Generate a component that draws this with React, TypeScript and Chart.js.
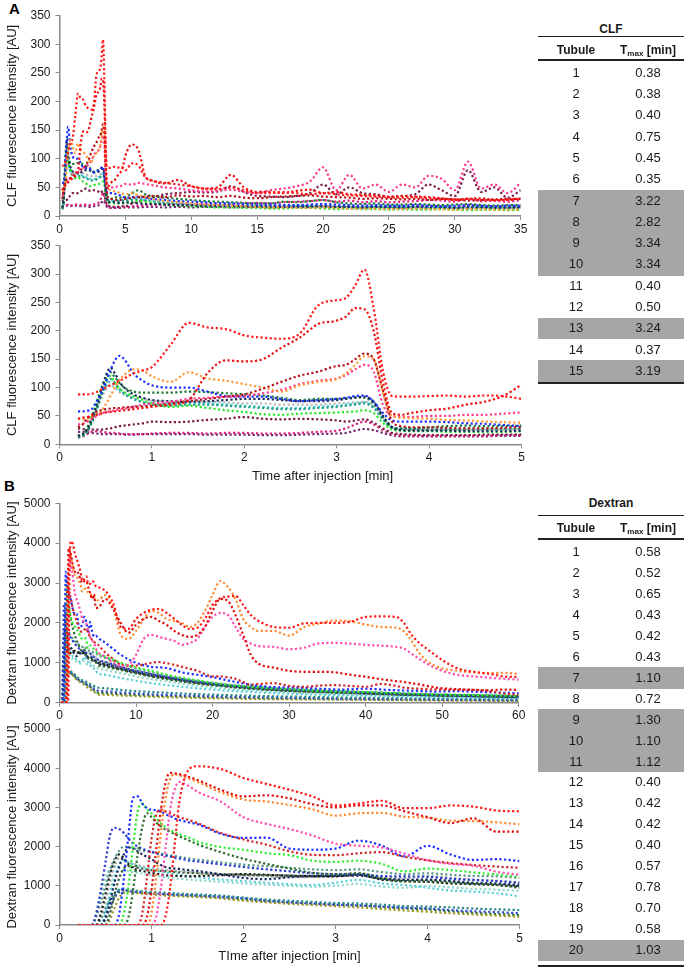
import React, { useEffect, useRef } from 'react';
import { Chart, registerables } from 'chart.js';

Chart.register(...registerables);

const FONT = "'Liberation Sans', Arial, Helvetica, sans-serif";

// ---------------- Panel A : CLF ----------------
// time grid for the 0-5 min view (min)
const tClf = [0.2, 0.25, 0.3, 0.35, 0.4, 0.45, 0.5, 0.55, 0.6, 0.65, 0.7, 0.8, 0.9, 1.0, 1.2, 1.4, 1.6, 1.8, 2.0, 2.2, 2.4, 2.6, 2.8, 3.0, 3.1, 3.2, 3.3, 3.4, 3.5, 3.6, 3.7, 3.8, 4.0, 4.2, 4.4, 4.6, 4.8, 5.0];
// time grid for the tail of the 0-35 min view (min)
const tClfTail = [5.5, 6, 6.5, 7, 8, 9, 10, 11, 12, 13, 14, 15, 16, 17, 18, 19, 20, 21, 22, 23, 24, 25, 26, 27, 28, 29, 30, 31, 32, 33, 34, 35];

const clfRed = [88, 88, 88, 89, 92, 96, 100, 104, 108, 112, 116, 125, 130, 136, 175, 214, 206, 203, 192, 188, 186, 195, 245, 254, 258, 280, 308, 240, 130, 85, 84, 84, 85, 86, 84, 86, 85, 80];
const clfRed2 = [45, 47, 48, 50, 52, 54, 56, 57, 58, 59, 60, 62, 64, 66, 70, 78, 125, 148, 146, 150, 170, 188, 212, 218, 225, 240, 238, 200, 110, 55, 52, 55, 60, 63, 70, 75, 85, 105];
const clfDarkRed = [30, 35, 45, 52, 57, 60, 62, 63, 64, 64, 65, 66, 67, 68, 72, 76, 80, 84, 88, 98, 110, 121, 128, 138, 140, 150, 160, 150, 95, 40, 32, 30, 30, 29, 28, 28, 29, 30];
const clfOrange = [45, 44, 45, 48, 52, 58, 70, 85, 100, 113, 122, 132, 130, 120, 110, 127, 116, 112, 106, 100, 93, 104, 110, 115, 125, 140, 155, 150, 90, 50, 47, 46, 45, 43, 42, 40, 39, 38];
const clfPink = [35, 36, 40, 45, 50, 54, 57, 58, 60, 62, 63, 66, 70, 72, 75, 80, 82, 84, 85, 90, 96, 106, 112, 116, 122, 132, 140, 128, 70, 50, 48, 48, 50, 50, 52, 52, 54, 56];
const clfBlue = [58, 58, 59, 62, 75, 90, 110, 130, 148, 156, 150, 125, 112, 104, 100, 100, 93, 85, 84, 84, 80, 76, 78, 80, 82, 85, 86, 75, 55, 42, 40, 40, 40, 39, 37, 36, 34, 32];
const clfNavy = [15, 18, 28, 45, 68, 95, 120, 135, 125, 110, 100, 88, 82, 78, 76, 75, 76, 78, 80, 80, 78, 76, 76, 78, 80, 82, 84, 75, 50, 30, 25, 24, 24, 24, 23, 23, 23, 24];
const clfDarkGreen = [14, 16, 25, 40, 62, 88, 112, 127, 118, 108, 100, 93, 91, 91, 91, 93, 92, 90, 88, 86, 82, 78, 80, 80, 81, 83, 82, 72, 48, 30, 28, 28, 30, 32, 33, 32, 32, 33];
const clfGreen = [15, 18, 30, 50, 75, 98, 115, 120, 108, 98, 92, 85, 78, 72, 66, 68, 64, 60, 57, 53, 52, 54, 55, 56, 57, 58, 60, 55, 38, 26, 24, 23, 23, 22, 22, 22, 22, 23];
const clfTeal = [12, 14, 22, 38, 60, 85, 105, 115, 108, 98, 90, 80, 74, 70, 68, 70, 70, 68, 66, 64, 62, 62, 64, 66, 68, 70, 72, 64, 44, 28, 25, 25, 25, 26, 26, 26, 27, 27];
const clfCyan = [13, 15, 24, 40, 62, 85, 102, 110, 104, 95, 88, 80, 75, 72, 72, 73, 72, 70, 68, 66, 64, 64, 66, 68, 70, 72, 74, 66, 45, 30, 28, 27, 27, 27, 28, 28, 28, 29];
const clfGray = [14, 16, 25, 40, 60, 80, 96, 104, 100, 92, 88, 83, 80, 77, 75, 76, 75, 74, 72, 72, 70, 70, 70, 72, 73, 74, 75, 68, 48, 30, 27, 26, 26, 26, 26, 26, 26, 27];
const clfMaroon = [28, 27, 26, 26, 26, 26, 27, 28, 30, 32, 33, 35, 37, 40, 39, 40, 43, 45, 48, 45, 44, 45, 44, 42, 40, 42, 44, 38, 28, 20, 18, 17, 16, 16, 16, 17, 17, 17];
const clfMagenta = [12, 14, 18, 22, 23, 22, 21, 20, 20, 19, 18, 18, 18, 19, 20, 20, 19, 20, 20, 19, 19, 20, 22, 24, 28, 35, 40, 35, 25, 18, 16, 15, 15, 15, 15, 15, 16, 16];
const clfPurple = [22, 22, 21, 20, 19, 18, 18, 18, 18, 18, 17, 17, 18, 18, 18, 18, 17, 17, 17, 16, 16, 17, 18, 19, 20, 24, 27, 25, 20, 16, 14, 14, 14, 14, 14, 14, 15, 15];

const clfRedTail = [92, 88, 68, 62, 58, 55, 52, 48, 47, 50, 45, 40, 40, 42, 40, 38, 40, 38, 36, 35, 34, 33, 32, 33, 31, 30, 29, 30, 28, 27, 29, 30];
const clfRed2Tail = [125, 115, 70, 62, 57, 63, 52, 48, 50, 72, 50, 42, 42, 40, 44, 46, 40, 42, 38, 37, 36, 34, 35, 34, 33, 31, 28, 30, 31, 28, 28, 31];
const clfDarkRedTail = [32, 33, 34, 35, 33, 36, 34, 35, 33, 35, 32, 31, 33, 34, 35, 36, 34, 33, 32, 30, 31, 30, 29, 30, 28, 30, 29, 27, 28, 29, 30, 30];
const clfOrangeTail = [40, 36, 33, 30, 26, 24, 22, 20, 19, 18, 17, 16, 15, 15, 14, 14, 15, 14, 13, 13, 13, 12, 12, 13, 12, 12, 11, 12, 12, 11, 11, 12];
const clfPinkTail = [55, 58, 56, 54, 50, 48, 45, 43, 44, 46, 42, 40, 45, 48, 52, 60, 85, 45, 72, 48, 55, 42, 55, 50, 70, 65, 45, 95, 48, 55, 40, 58];
const clfBlueTail = [33, 34, 32, 30, 28, 26, 25, 24, 22, 22, 21, 20, 20, 19, 19, 20, 21, 20, 19, 18, 19, 18, 18, 19, 18, 17, 18, 19, 18, 17, 18, 18];
const clfNavyTail = [23, 22, 21, 21, 20, 19, 19, 18, 18, 18, 17, 17, 17, 16, 16, 17, 17, 16, 16, 15, 16, 15, 15, 16, 15, 15, 14, 15, 15, 14, 15, 15];
const clfDarkGreenTail = [40, 45, 38, 35, 32, 30, 28, 26, 25, 24, 23, 22, 22, 25, 24, 26, 28, 24, 22, 21, 22, 20, 20, 21, 20, 19, 20, 21, 19, 18, 19, 19];
const clfGreenTail = [24, 26, 25, 23, 20, 18, 17, 16, 15, 15, 14, 14, 13, 13, 14, 14, 13, 12, 13, 12, 12, 11, 12, 11, 11, 12, 11, 10, 11, 11, 10, 11];
const clfTealTail = [28, 29, 27, 25, 22, 20, 19, 18, 17, 17, 16, 16, 15, 15, 16, 16, 15, 15, 14, 14, 15, 14, 14, 14, 13, 14, 13, 13, 14, 13, 13, 13];
const clfCyanTail = [30, 31, 29, 27, 24, 22, 20, 19, 18, 18, 17, 17, 16, 16, 17, 17, 16, 16, 15, 15, 16, 15, 15, 15, 14, 15, 14, 14, 15, 14, 14, 14];
const clfGrayTail = [27, 27, 26, 25, 23, 22, 21, 20, 20, 19, 19, 18, 18, 18, 19, 19, 18, 18, 17, 17, 18, 17, 17, 17, 16, 17, 16, 16, 17, 16, 16, 16];
const clfMaroonTail = [22, 25, 28, 32, 38, 40, 42, 41, 43, 52, 42, 35, 34, 33, 35, 40, 55, 38, 50, 40, 38, 33, 35, 38, 55, 45, 35, 80, 42, 50, 32, 45];
const clfMagentaTail = [17, 18, 19, 20, 20, 21, 20, 21, 22, 21, 22, 23, 22, 24, 25, 26, 28, 25, 27, 24, 26, 24, 25, 26, 28, 27, 25, 30, 26, 27, 25, 28];
const clfPurpleTail = [15, 15, 16, 16, 15, 16, 15, 16, 16, 15, 16, 16, 15, 16, 17, 16, 17, 16, 16, 15, 16, 16, 15, 16, 17, 16, 15, 18, 16, 16, 15, 16];

// ---------------- Panel B : Dextran ----------------
const tDex = [0.2, 0.3, 0.35, 0.4, 0.45, 0.5, 0.55, 0.6, 0.65, 0.7, 0.75, 0.8, 0.85, 0.9, 0.95, 1.0, 1.05, 1.1, 1.15, 1.2, 1.25, 1.3, 1.4, 1.5, 1.75, 2.0, 2.25, 2.5, 2.75, 3.0, 3.25, 3.5, 3.75, 4.0, 4.25, 4.5, 4.75, 5.0];
const tDexLateTail = [6, 7, 8, 9, 10, 11, 12, 13, 14, 15, 16, 17, 18, 19, 20, 21, 22, 23, 24, 25, 26, 28, 30, 32, 34, 36, 38, 40, 42, 44, 45, 46, 47, 48, 50, 52, 54, 56, 58, 60];
const tDexEarlyTail = [6, 7, 8, 10, 12, 14, 16, 18, 20, 22, 25, 28, 31, 34, 37, 40, 43, 46, 49, 52, 55, 58, 60];

const dexRedTop = [0, 0, 0, 0, 0, 0, 0, 0, 0, 0, 0, 0, 0, 0, 0, 0, 0, 0, 200, 900, 2000, 3100, 3950, 4050, 3980, 3750, 3600, 3450, 3280, 3050, 3100, 3170, 2980, 2980, 3050, 3020, 2920, 2900];
const dexRed2 = [0, 0, 0, 0, 0, 0, 0, 0, 0, 0, 0, 0, 0, 0, 200, 900, 1900, 2900, 3600, 3880, 3870, 3850, 3780, 3700, 3450, 3280, 3310, 3230, 3080, 3000, 3050, 3050, 2900, 2750, 2600, 2720, 2380, 2380];
const dexOrange = [0, 0, 0, 0, 0, 0, 0, 0, 0, 0, 0, 0, 0, 0, 0, 300, 1200, 2300, 3200, 3700, 3850, 3820, 3740, 3650, 3390, 3200, 3150, 3060, 2950, 2790, 2850, 2860, 2760, 2740, 2660, 2650, 2620, 2570];
const dexPink = [0, 0, 0, 0, 0, 0, 0, 0, 0, 0, 0, 0, 0, 0, 0, 0, 200, 900, 1900, 2900, 3450, 3650, 3550, 3400, 3150, 2750, 2580, 2450, 2280, 2080, 2020, 1980, 1820, 1650, 1560, 1510, 1360, 1280];
const dexRed3 = [0, 0, 0, 0, 0, 0, 0, 0, 0, 0, 0, 0, 0, 300, 1200, 2200, 2800, 2950, 2900, 2850, 2800, 2750, 2680, 2600, 2350, 2180, 2050, 1880, 1790, 1780, 1830, 1860, 1740, 1650, 1580, 1530, 1490, 1460];
const dexBlue = [0, 0, 0, 0, 0, 0, 0, 0, 300, 1200, 2300, 3250, 3280, 3100, 2980, 2940, 2930, 2900, 2830, 2780, 2720, 2680, 2620, 2570, 2330, 2220, 2230, 1950, 1920, 1950, 2150, 2030, 1750, 2020, 1800, 1660, 1680, 1630];
const dexGreen = [0, 0, 0, 0, 0, 0, 0, 0, 0, 300, 1000, 2000, 2900, 3100, 2950, 2850, 2720, 2600, 2500, 2420, 2370, 2320, 2240, 2130, 1990, 1920, 1830, 1780, 1640, 1610, 1640, 1560, 1370, 1440, 1400, 1340, 1290, 1230];
const dexDarkGreen = [0, 0, 0, 0, 0, 0, 0, 0, 0, 0, 200, 900, 1800, 2500, 2850, 2750, 2620, 2520, 2440, 2380, 2320, 2270, 2160, 2060, 1860, 1690, 1560, 1440, 1330, 1290, 1320, 1180, 1110, 1110, 1080, 1050, 1020, 950];
const dexBlue2 = [0, 0, 0, 300, 900, 1600, 2300, 2480, 2450, 2350, 2200, 2080, 2000, 1950, 1900, 1870, 1830, 1800, 1770, 1750, 1720, 1700, 1650, 1620, 1550, 1480, 1420, 1370, 1320, 1300, 1300, 1250, 1240, 1230, 1180, 1150, 1120, 1080];
const dexNavy = [0, 0, 0, 0, 0, 200, 600, 1100, 1500, 1800, 1980, 1950, 1880, 1800, 1740, 1680, 1600, 1530, 1480, 1450, 1440, 1430, 1400, 1380, 1290, 1200, 1170, 1220, 1240, 1250, 1260, 1180, 1150, 1150, 1120, 1060, 1050, 1000];
const dexTealGray = [0, 0, 0, 200, 600, 1000, 1400, 1700, 1900, 2000, 1990, 1960, 1930, 1900, 1880, 1860, 1840, 1820, 1800, 1780, 1760, 1740, 1700, 1670, 1600, 1540, 1500, 1460, 1420, 1400, 1420, 1350, 1300, 1320, 1280, 1250, 1240, 1200];
const dexBlack = [0, 0, 0, 0, 300, 800, 1300, 1650, 1800, 1700, 1550, 1450, 1400, 1380, 1350, 1330, 1310, 1290, 1270, 1260, 1250, 1250, 1240, 1250, 1270, 1300, 1280, 1260, 1250, 1240, 1280, 1160, 1120, 1100, 1060, 1040, 1020, 980];
const dexCyan = [0, 0, 0, 0, 0, 300, 800, 1250, 1550, 1650, 1600, 1550, 1500, 1460, 1430, 1400, 1380, 1360, 1340, 1320, 1300, 1280, 1250, 1220, 1160, 1120, 1080, 1040, 1020, 1080, 1150, 1060, 1020, 950, 880, 850, 810, 730];
const dexDarkGreen2 = [0, 0, 0, 0, 0, 0, 300, 800, 1200, 1450, 1500, 1480, 1460, 1440, 1420, 1400, 1390, 1380, 1370, 1360, 1350, 1340, 1330, 1320, 1300, 1280, 1270, 1260, 1250, 1260, 1300, 1200, 1150, 1160, 1120, 1080, 1060, 1030];
const dexGray = [0, 0, 0, 0, 200, 600, 1100, 1500, 1700, 1650, 1600, 1560, 1530, 1500, 1480, 1460, 1440, 1420, 1400, 1390, 1380, 1370, 1350, 1330, 1300, 1260, 1240, 1220, 1220, 1250, 1330, 1230, 1200, 1250, 1200, 1150, 1130, 1080];
const dexLightTeal = [0, 0, 0, 300, 800, 1200, 1450, 1500, 1450, 1400, 1370, 1350, 1330, 1310, 1290, 1270, 1250, 1230, 1210, 1200, 1190, 1180, 1160, 1140, 1100, 1060, 1030, 1000, 980, 1000, 1050, 980, 950, 1000, 960, 920, 900, 870];
const dexTealLow = [0, 0, 0, 0, 150, 400, 650, 820, 900, 920, 900, 880, 870, 860, 850, 845, 840, 830, 820, 815, 810, 800, 790, 780, 750, 700, 650, 620, 590, 560, 550, 520, 480, 470, 450, 420, 400, 380];
const dexBlueLow = [0, 0, 0, 0, 0, 200, 500, 750, 880, 900, 870, 850, 840, 830, 820, 810, 800, 795, 790, 780, 775, 770, 760, 750, 720, 680, 620, 580, 550, 520, 500, 470, 440, 420, 380, 350, 330, 300];
const dexOlive = [0, 0, 0, 0, 0, 0, 150, 450, 700, 820, 850, 830, 810, 800, 790, 780, 770, 760, 750, 745, 740, 735, 725, 715, 680, 620, 580, 540, 510, 480, 450, 410, 370, 340, 300, 270, 240, 210];
const dexDarkGreenLow = [0, 0, 0, 0, 0, 150, 450, 700, 840, 880, 860, 840, 830, 815, 805, 800, 790, 780, 770, 765, 760, 755, 745, 735, 700, 650, 600, 570, 540, 520, 500, 460, 420, 400, 350, 310, 280, 250];

const dexRedTopTail = [2800, 2500, 1900, 1850, 2100, 2250, 2330, 2350, 2250, 2100, 1950, 1850, 1880, 2100, 2450, 2620, 2660, 2680, 2450, 2200, 2050, 1900, 1880, 1990, 2000, 2000, 2030, 2150, 2165, 2150, 2000, 1700, 1500, 1350, 1070, 860, 780, 730, 660, 640];
const dexRed2Tail = [2600, 2350, 2000, 1750, 1950, 2100, 2150, 2050, 1950, 1800, 1700, 1650, 1700, 1900, 2300, 2600, 2550, 2200, 1700, 1200, 980, 880, 800, 775, 775, 760, 700, 650, 590, 540, 520, 490, 460, 420, 360, 340, 320, 310, 330, 320];
const dexOrangeTail = [2700, 2400, 1700, 1600, 1800, 2100, 2300, 2250, 2100, 2050, 2000, 1900, 2000, 2300, 2700, 3050, 2900, 2600, 2100, 1900, 1800, 1800, 1680, 1900, 1990, 2060, 2040, 1960, 1900, 1880, 1790, 1550, 1250, 1050, 860, 800, 760, 740, 750, 720];
const dexPinkTail = [1150, 1000, 920, 950, 1200, 1600, 1700, 1650, 1600, 1550, 1450, 1500, 1600, 1900, 2150, 2250, 2200, 1900, 1600, 1480, 1420, 1400, 1340, 1380, 1490, 1500, 1480, 1450, 1430, 1400, 1360, 1230, 1100, 980, 800, 700, 660, 630, 600, 580];
const dexRed3Tail = [1250, 1100, 950, 930, 930, 960, 1000, 1020, 990, 950, 900, 850, 800, 720, 660, 660, 640, 600, 520, 450, 470, 490, 420, 400, 430, 440, 420, 400, 470, 420, 380, 360, 350, 340, 330, 320, 320, 300, 230, 200];
const dexBlueTail = [1500, 1350, 1200, 1000, 900, 870, 760, 700, 640, 560, 450, 390, 380, 350, 330, 350, 320, 300, 280, 290, 270, 250, 240];
const dexGreenTail = [1150, 1080, 1000, 880, 800, 700, 620, 560, 500, 450, 400, 360, 330, 300, 280, 270, 250, 230, 210, 200, 190, 180, 170];
const dexDarkGreenTail = [900, 860, 820, 740, 660, 590, 530, 480, 440, 400, 350, 320, 290, 270, 250, 240, 220, 200, 190, 180, 170, 160, 150];
const dexBlue2Tail = [1020, 960, 900, 800, 720, 650, 590, 530, 480, 440, 390, 350, 320, 300, 280, 260, 240, 220, 200, 190, 180, 170, 160];
const dexNavyTail = [960, 900, 850, 760, 680, 620, 560, 500, 460, 420, 370, 330, 300, 280, 260, 240, 220, 200, 190, 180, 160, 150, 140];
const dexTealGrayTail = [1120, 1050, 980, 860, 760, 680, 610, 550, 500, 450, 400, 360, 330, 300, 280, 260, 240, 220, 200, 190, 180, 170, 160];
const dexBlackTail = [930, 880, 830, 740, 660, 600, 540, 490, 450, 410, 360, 320, 290, 270, 250, 230, 210, 200, 180, 170, 160, 150, 140];
const dexCyanTail = [700, 660, 620, 550, 490, 440, 400, 360, 330, 300, 270, 240, 220, 200, 190, 180, 170, 160, 150, 140, 130, 120, 115];
const dexDarkGreen2Tail = [980, 930, 880, 780, 700, 630, 570, 520, 470, 430, 380, 340, 310, 290, 270, 250, 230, 210, 200, 190, 180, 170, 160];
const dexGrayTail = [1020, 960, 900, 800, 710, 640, 580, 520, 470, 430, 380, 340, 310, 280, 260, 240, 220, 210, 190, 180, 170, 160, 150];
const dexLightTealTail = [820, 780, 740, 660, 590, 530, 480, 430, 390, 350, 310, 280, 250, 230, 210, 200, 190, 170, 160, 150, 140, 130, 125];
const dexTealLowTail = [360, 340, 320, 290, 270, 250, 230, 215, 200, 190, 175, 160, 150, 140, 130, 125, 120, 110, 105, 100, 95, 90, 85];
const dexBlueLowTail = [285, 270, 255, 230, 210, 195, 180, 170, 160, 150, 140, 130, 120, 110, 100, 95, 90, 85, 80, 75, 70, 65, 60];
const dexOliveTail = [200, 190, 180, 165, 150, 140, 130, 120, 110, 105, 95, 90, 85, 80, 75, 70, 65, 60, 55, 50, 50, 45, 45];
const dexDarkGreenLowTail = [240, 225, 215, 195, 180, 165, 155, 145, 135, 125, 115, 105, 100, 95, 90, 85, 80, 75, 70, 65, 60, 55, 55];

// ---------------- Tables ----------------
const clfTmax = [0.38, 0.38, 0.40, 0.75, 0.45, 0.35, 3.22, 2.82, 3.34, 3.34, 0.40, 0.50, 3.24, 0.37, 3.19];
const clfShaded = [7, 8, 9, 10, 13, 15];
const dexTmax = [0.58, 0.52, 0.65, 0.43, 0.42, 0.43, 1.10, 0.72, 1.30, 1.10, 1.12, 0.40, 0.42, 0.42, 0.40, 0.57, 0.78, 0.70, 0.58, 1.03];
const dexShaded = [7, 9, 10, 11, 20];

type Series = { color: string; main: number[]; tail: number[]; tailT: number[] };

const clfSeries: Series[] = [
  { color: '#ff1c1c', main: clfRed, tail: clfRedTail, tailT: tClfTail },
  { color: '#ee1010', main: clfRed2, tail: clfRed2Tail, tailT: tClfTail },
  { color: '#b5121b', main: clfDarkRed, tail: clfDarkRedTail, tailT: tClfTail },
  { color: '#ff9a3c', main: clfOrange, tail: clfOrangeTail, tailT: tClfTail },
  { color: '#ff3d8f', main: clfPink, tail: clfPinkTail, tailT: tClfTail },
  { color: '#1f2fff', main: clfBlue, tail: clfBlueTail, tailT: tClfTail },
  { color: '#1c2b5a', main: clfNavy, tail: clfNavyTail, tailT: tClfTail },
  { color: '#1d7a34', main: clfDarkGreen, tail: clfDarkGreenTail, tailT: tClfTail },
  { color: '#2ee82e', main: clfGreen, tail: clfGreenTail, tailT: tClfTail },
  { color: '#2a9c8a', main: clfTeal, tail: clfTealTail, tailT: tClfTail },
  { color: '#3fd0d0', main: clfCyan, tail: clfCyanTail, tailT: tClfTail },
  { color: '#b8b8b8', main: clfGray, tail: clfGrayTail, tailT: tClfTail },
  { color: '#7a1c45', main: clfMaroon, tail: clfMaroonTail, tailT: tClfTail },
  { color: '#e0207f', main: clfMagenta, tail: clfMagentaTail, tailT: tClfTail },
  { color: '#6e2a70', main: clfPurple, tail: clfPurpleTail, tailT: tClfTail },
];

const dexSeries: Series[] = [
  { color: '#ff1a1a', main: dexRedTop, tail: dexRedTopTail, tailT: tDexLateTail },
  { color: '#e01010', main: dexRed2, tail: dexRed2Tail, tailT: tDexLateTail },
  { color: '#ff8a33', main: dexOrange, tail: dexOrangeTail, tailT: tDexLateTail },
  { color: '#ff4fb0', main: dexPink, tail: dexPinkTail, tailT: tDexLateTail },
  { color: '#d02828', main: dexRed3, tail: dexRed3Tail, tailT: tDexLateTail },
  { color: '#1f2fff', main: dexBlue, tail: dexBlueTail, tailT: tDexEarlyTail },
  { color: '#33ee33', main: dexGreen, tail: dexGreenTail, tailT: tDexEarlyTail },
  { color: '#2e6b2e', main: dexDarkGreen, tail: dexDarkGreenTail, tailT: tDexEarlyTail },
  { color: '#2a3acc', main: dexBlue2, tail: dexBlue2Tail, tailT: tDexEarlyTail },
  { color: '#1a2a66', main: dexNavy, tail: dexNavyTail, tailT: tDexEarlyTail },
  { color: '#5a9a8a', main: dexTealGray, tail: dexTealGrayTail, tailT: tDexEarlyTail },
  { color: '#1a1a1a', main: dexBlack, tail: dexBlackTail, tailT: tDexEarlyTail },
  { color: '#5fd0d8', main: dexCyan, tail: dexCyanTail, tailT: tDexEarlyTail },
  { color: '#3a5f3a', main: dexDarkGreen2, tail: dexDarkGreen2Tail, tailT: tDexEarlyTail },
  { color: '#a8b0a8', main: dexGray, tail: dexGrayTail, tailT: tDexEarlyTail },
  { color: '#8fd8cc', main: dexLightTeal, tail: dexLightTealTail, tailT: tDexEarlyTail },
  { color: '#2a8a8a', main: dexTealLow, tail: dexTealLowTail, tailT: tDexEarlyTail },
  { color: '#3a4cd0', main: dexBlueLow, tail: dexBlueLowTail, tailT: tDexEarlyTail },
  { color: '#a09a2a', main: dexOlive, tail: dexOliveTail, tailT: tDexEarlyTail },
  { color: '#2d7030', main: dexDarkGreenLow, tail: dexDarkGreenLowTail, tailT: tDexEarlyTail },
];

function buildDatasets(series: Series[], mainT: number[], withTail: boolean) {
  return series.map((s) => {
    const pts = mainT.map((t, i) => ({ x: t, y: s.main[i] }));
    const all = withTail ? pts.concat(s.tailT.map((t, i) => ({ x: t, y: s.tail[i] }))) : pts;
    return {
      data: all,
      borderColor: s.color,
      backgroundColor: s.color,
      borderWidth: 2.2,
      borderDash: [2.2, 2.4],
      pointRadius: 0,
      fill: false,
      cubicInterpolationMode: 'monotone' as const,
    };
  });
}

type ChartProps = {
  top: number;
  height: number;
  xMax: number;
  xStep: number;
  yMax: number;
  yStep: number;
  yTitle: string;
  xTitle?: string;
  padTop: number;
  padRight: number;
  xAxisH: number;
  datasets: any[];
};

const AXIS = '#8a8a8a';
const TXT = '#1a1a1a';

function LineChart(p: ChartProps) {
  const ref = useRef<HTMLCanvasElement>(null);
  useEffect(() => {
    const chart = new Chart(ref.current as HTMLCanvasElement, {
      type: 'line',
      data: { datasets: p.datasets },
      options: {
        animation: false,
        responsive: false,
        maintainAspectRatio: false,
        events: [],
        layout: { padding: { top: p.padTop, right: p.padRight, left: 0, bottom: 0 } },
        plugins: { legend: { display: false }, tooltip: { enabled: false } },
        scales: {
          x: {
            type: 'linear',
            min: 0,
            max: p.xMax,
            ticks: {
              stepSize: p.xStep,
              font: { family: FONT, size: 12 },
              color: TXT,
              padding: 2,
              maxRotation: 0,
              callback: (v: any) => String(v),
            },
            grid: { display: true, drawOnChartArea: false, drawTicks: true, tickLength: 4, color: AXIS },
            border: { display: true, color: AXIS, width: 1.5 },
            title: p.xTitle
              ? { display: true, text: p.xTitle, font: { family: FONT, size: 13 }, color: TXT, padding: { top: 0, bottom: 6 } }
              : { display: false },
            afterFit: (s: any) => {
              s.height = p.xAxisH;
            },
          },
          y: {
            min: 0,
            max: p.yMax,
            ticks: {
              stepSize: p.yStep,
              font: { family: FONT, size: 12 },
              color: TXT,
              padding: 5,
              callback: (v: any) => String(v),
            },
            grid: { display: true, drawOnChartArea: false, drawTicks: true, tickLength: 4, color: AXIS },
            border: { display: true, color: AXIS, width: 1.5 },
            title: { display: true, text: p.yTitle, font: { family: FONT, size: 13 }, color: TXT, padding: { top: 5, bottom: 0 } },
            afterFit: (s: any) => {
              s.width = 59.5;
            },
          },
        },
      } as any,
    });
    return () => chart.destroy();
  }, []);
  return (
    <canvas
      ref={ref}
      width={530}
      height={p.height}
      style={{ position: 'absolute', left: 0, top: p.top, width: 530, height: p.height }}
    />
  );
}

type TableProps = {
  title: string;
  titleY: number;
  topLineY: number;
  headerY: number;
  headLineY: number;
  row1Y: number;
  rowH: number;
  values: number[];
  shaded: number[];
  bottomLineY: number;
};

const TX0 = 538;
const TX1 = 684;

function Txt(props: { cx: number; cy: number; bold?: boolean; size?: number; children: any }) {
  return (
    <div
      style={{
        position: 'absolute',
        left: props.cx - 50,
        width: 100,
        top: props.cy - 8,
        height: 16,
        lineHeight: '16px',
        textAlign: 'center',
        fontFamily: FONT,
        fontSize: props.size ?? 13,
        fontWeight: props.bold ? 700 : 400,
        color: TXT,
        whiteSpace: 'nowrap',
      }}
    >
      {props.children}
    </div>
  );
}

function Table(t: TableProps) {
  const c1 = 576;
  const c2 = 648;
  return (
    <>
      {t.values.map((v, i) =>
        t.shaded.includes(i + 1) ? (
          <div
            key={'g' + i}
            style={{
              position: 'absolute',
              left: TX0,
              width: TX1 - TX0,
              top: t.row1Y + i * t.rowH - t.rowH / 2,
              height: t.rowH + 0.5,
              background: '#a6a6a6',
            }}
          />
        ) : null
      )}
      <Txt cx={(TX0 + TX1) / 2} cy={t.titleY} bold size={12}>
        {t.title}
      </Txt>
      <div style={{ position: 'absolute', left: TX0, width: TX1 - TX0, top: t.topLineY, height: 1, background: '#222' }} />
      <Txt cx={c1} cy={t.headerY} bold size={12}>
        Tubule
      </Txt>
      <Txt cx={c2} cy={t.headerY} bold size={12}>
        <span>
          T<span style={{ fontSize: 8, position: 'relative', top: 2 }}>max</span> [min]
        </span>
      </Txt>
      <div style={{ position: 'absolute', left: TX0, width: TX1 - TX0, top: t.headLineY - 1, height: 2, background: '#222' }} />
      {t.values.map((v, i) => (
        <React.Fragment key={'r' + i}>
          <Txt cx={c1} cy={t.row1Y + i * t.rowH}>
            {String(i + 1)}
          </Txt>
          <Txt cx={c2} cy={t.row1Y + i * t.rowH}>
            {v.toFixed(2)}
          </Txt>
        </React.Fragment>
      ))}
      <div style={{ position: 'absolute', left: TX0, width: TX1 - TX0, top: t.bottomLineY - 1, height: 2, background: '#222' }} />
    </>
  );
}

export default function App() {
  const clfLong = buildDatasets(clfSeries, tClf, true);
  const clfShort = buildDatasets(clfSeries, tClf, false);
  const dexLong = buildDatasets(dexSeries, tDex, true);
  const dexShort = buildDatasets(dexSeries, tDex, false);
  return (
    <div
      style={{
        position: 'absolute',
        left: 0,
        top: 0,
        width: 685,
        height: 970,
        background: '#ffffff',
        overflow: 'hidden',
        fontFamily: FONT,
      }}
    >
      <div style={{ position: 'absolute', left: 9, top: 1, fontFamily: FONT, fontSize: 15, fontWeight: 700, lineHeight: '16px', color: '#000' }}>
        A
      </div>
      <div style={{ position: 'absolute', left: 4, top: 478, fontFamily: FONT, fontSize: 15, fontWeight: 700, lineHeight: '16px', color: '#000' }}>
        B
      </div>

      <LineChart top={0} height={240} xMax={35} xStep={5} yMax={350} yStep={50} yTitle="CLF fluorescence intensity [AU]" padTop={15.7} padRight={9.3} xAxisH={24} datasets={clfLong} />
      <LineChart top={230} height={240} xMax={5} xStep={1} yMax={350} yStep={50} yTitle="CLF fluorescence intensity [AU]" padTop={15.7} padRight={8.5} xAxisH={25.7} datasets={clfShort} />
      <div style={{ position: 'absolute', left: 252, top: 468, lineHeight: '16px', fontFamily: FONT, fontSize: 13, color: TXT, whiteSpace: 'nowrap' }}>
        Time after injection [min]
      </div>

      <LineChart top={488} height={240} xMax={60} xStep={10} yMax={5000} yStep={1000} yTitle="Dextran fluorescence intensity [AU]" padTop={15.3} padRight={11.3} xAxisH={25.3} datasets={dexLong} />
      <LineChart top={714} height={256} xMax={5} xStep={1} yMax={5000} yStep={1000} yTitle="Dextran fluorescence intensity [AU]" xTitle="TIme after injection [min]" padTop={15} padRight={10.5} xAxisH={45} datasets={dexShort} />

      <Table title="CLF" titleY={29} topLineY={36} headerY={50} headLineY={60} row1Y={72.7} rowH={21.3} values={clfTmax} shaded={clfShaded} bottomLineY={383} />
      <Table title="Dextran" titleY={503} topLineY={515} headerY={528} headLineY={539} row1Y={552} rowH={20.95} values={dexTmax} shaded={dexShaded} bottomLineY={966} />
    </div>
  );
}
